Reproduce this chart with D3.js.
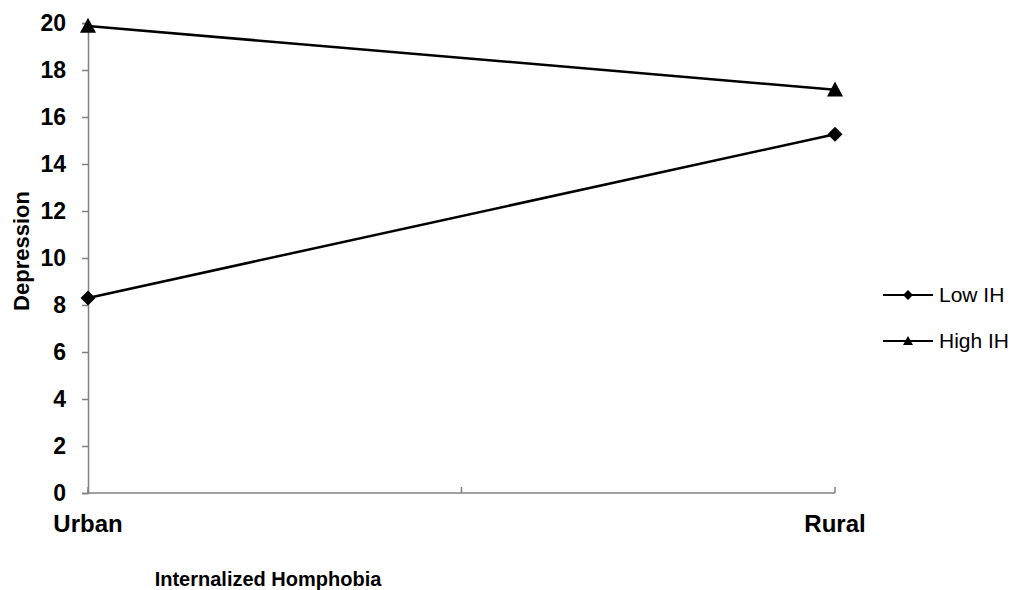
<!DOCTYPE html>
<html>
<head>
<meta charset="utf-8">
<script src="https://cdn.jsdelivr.net/npm/d3@7"></script>
<style>
  html, body { margin: 0; padding: 0; background: #fff; }
  svg { display: block; }
  text { font-family: "Liberation Sans", Arial, sans-serif; fill: #000; }
</style>
</head>
<body>
<svg id="chart" width="1021" height="590"></svg>
<script>
const categories = ["Urban", "Rural"];
const lowIH = [8.3, 15.27];
const highIH = [19.87, 17.16];
const yTicks = [0, 2, 4, 6, 8, 10, 12, 14, 16, 18, 20];
const seriesNames = ["Low IH", "High IH"];

const svg = d3.select("#chart");
const x = d3.scaleLinear().domain([0, categories.length - 1]).range([88, 835]);
const y = d3.scaleLinear().domain([0, 20]).range([493, 23]);

function diamond(r) { return `M0,${-r}L${r},0L0,${r}L${-r},0Z`; }
function triangle(w, h) { return `M0,${-h * 0.55}L${w / 2},${h * 0.45}L${-w / 2},${h * 0.45}Z`; }
const markers = [() => diamond(7.5), () => triangle(16, 15)];
const legMarkers = [() => diamond(5), () => triangle(10, 9)];

// Y axis
const yAxis = d3.axisLeft(y).tickValues(yTicks).tickSize(6).tickPadding(16);
const gy = svg.append("g").attr("transform", "translate(88,0)").call(yAxis);
gy.select(".domain").attr("stroke", "#808080").attr("stroke-width", 1.5);
gy.selectAll(".tick line").attr("stroke", "#808080").attr("stroke-width", 1.5);
gy.selectAll(".tick text").attr("font-size", 23).attr("font-weight", "bold")
  .attr("font-family", "Liberation Sans, Arial, sans-serif").attr("fill", "#000");

// X axis (ticks inside, at category edges/center)
const gx = svg.append("g").attr("transform", "translate(0,493)");
gx.append("line").attr("x1", x(0)).attr("x2", x(1)).attr("stroke", "#808080").attr("stroke-width", 1.5);
gx.selectAll("line.t").data([0, 0.5, 1]).enter().append("line").attr("class", "t")
  .attr("x1", d => x(d)).attr("x2", d => x(d)).attr("y1", 0).attr("y2", -6)
  .attr("stroke", "#808080").attr("stroke-width", 1.5);
svg.selectAll("text.cat").data(categories).enter().append("text").attr("class", "cat")
  .attr("x", (d, i) => x(i)).attr("y", 532).attr("text-anchor", "middle")
  .attr("font-size", 24).attr("font-weight", "bold").text(d => d);

// Axis titles
svg.append("text").attr("x", 268).attr("y", 586).attr("text-anchor", "middle")
  .attr("font-size", 20).attr("font-weight", "bold").text("Internalized Homphobia");
svg.append("text").attr("transform", "translate(29,251) rotate(-90)").attr("text-anchor", "middle")
  .attr("font-size", 22).attr("font-weight", "bold").text("Depression");

// Lines
const line = d3.line().x((d, i) => x(i)).y(d => y(d));
const series = [lowIH, highIH];
series.forEach((s, k) => {
  svg.append("path").datum(s).attr("d", line).attr("fill", "none")
    .attr("stroke", "#000").attr("stroke-width", 2.5);
  svg.selectAll(null).data(s).enter().append("path")
    .attr("transform", (d, i) => `translate(${x(i)},${y(d)})`)
    .attr("d", markers[k]).attr("fill", "#000");
});

// Legend
const legY = [295, 341];
seriesNames.forEach((n, k) => {
  const g = svg.append("g").attr("transform", `translate(0,${legY[k]})`);
  g.append("line").attr("x1", 883).attr("x2", 933).attr("stroke", "#000").attr("stroke-width", 2);
  g.append("path").attr("transform", "translate(908,0)").attr("d", legMarkers[k]).attr("fill", "#000");
  g.append("text").attr("x", 939).attr("y", 7).attr("font-size", 21).text(n);
});
</script>
</body>
</html>
